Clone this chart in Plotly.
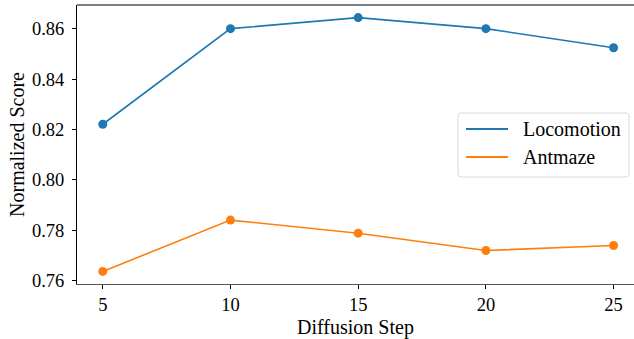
import plotly.graph_objects as go

# Diffusion step sweep and the normalized scores of each task family
diffusion_steps = [5, 10, 15, 20, 25]
locomotion = [0.8221, 0.8601, 0.8645, 0.8601, 0.8525]
antmaze = [0.7636, 0.7840, 0.7788, 0.7719, 0.7739]

y_ticks = [0.76, 0.78, 0.80, 0.82, 0.84, 0.86]
x_ticks = [5, 10, 15, 20, 25]

series_names = ["Locomotion", "Antmaze"]
series_values = [locomotion, antmaze]
series_colors = ["#1f77b4", "#ff7f0e"]

FONT = "Liberation Serif"
W, H = 634, 339
ML, MR, MT, MB = 77, 0, 5, 55
PW, PH = W - ML - MR, H - MT - MB


def px(x):
    """pixel x -> paper x"""
    return (x - ML) / PW


def py(y):
    """pixel y -> paper y"""
    return (H - MB - y) / PH


fig = go.Figure()
for name, values, color in zip(series_names, series_values, series_colors):
    fig.add_trace(go.Scatter(
        x=diffusion_steps, y=values, name=name, showlegend=False,
        mode="lines+markers",
        line=dict(color=color, width=1.6),
        marker=dict(color=color, size=9),
    ))

axis_common = dict(
    showgrid=False, zeroline=False,
    showline=True, linewidth=1,
    ticks="outside", ticklen=4, tickwidth=1, tickcolor="black",
    tickfont=dict(family=FONT, size=18.5, color="black"),
)

# legend frame with rounded corners (matplotlib style)
lx0, lx1, ly0, ly1, r = 458, 629, 113, 177, 3
rx, ry = r / PW, r / PH
x0, x1, y0, y1 = px(lx0), px(lx1), py(ly1), py(ly0)
frame_path = (
    f"M {x0 + rx} {y0} L {x1 - rx} {y0} Q {x1} {y0} {x1} {y0 + ry} "
    f"L {x1} {y1 - ry} Q {x1} {y1} {x1 - rx} {y1} "
    f"L {x0 + rx} {y1} Q {x0} {y1} {x0} {y1 - ry} "
    f"L {x0} {y0 + ry} Q {x0} {y0} {x0 + rx} {y0} Z"
)
shapes = [
    dict(type="line", xref="paper", yref="paper", x0=0, x1=1, y0=1, y1=1,
         line=dict(color="black", width=1)),
    dict(type="path", xref="paper", yref="paper", path=frame_path,
         fillcolor="rgba(255,255,255,0.8)", line=dict(color="#d9d9d9", width=1)),
]
annotations = []
for i, (name, color) in enumerate(zip(series_names, series_colors)):
    yy = py(129 + 28 * i)
    shapes.append(dict(type="line", xref="paper", yref="paper",
                       x0=px(466), x1=px(508), y0=yy, y1=yy,
                       line=dict(color=color, width=2)))
    annotations.append(dict(x=px(521), y=yy, xref="paper", yref="paper",
                            xanchor="left", yanchor="middle", showarrow=False,
                            text=name, font=dict(family=FONT, size=20, color="black")))

fig.update_layout(
    width=W, height=H,
    margin=dict(l=ML, r=MR, t=MT, b=MB),
    paper_bgcolor="white", plot_bgcolor="white",
    font=dict(family=FONT, color="black"),
    showlegend=False,
    xaxis=dict(
        **axis_common,
        linecolor="#555555",
        range=[3.99, 25.8],
        tickvals=x_ticks,
        ticktext=[str(v) for v in x_ticks],
        title=dict(text="Diffusion Step", font=dict(family=FONT, size=20), standoff=6),
    ),
    yaxis=dict(
        **axis_common,
        linecolor="black",
        range=[0.7586, 0.8695],
        tickvals=y_ticks,
        ticktext=[f"{v:.2f}" for v in y_ticks],
        ticklabelstandoff=4,
        title=dict(text="Normalized Score", font=dict(family=FONT, size=20), standoff=1),
    ),
    shapes=shapes,
    annotations=annotations,
)

fig.write_html("out.html")
